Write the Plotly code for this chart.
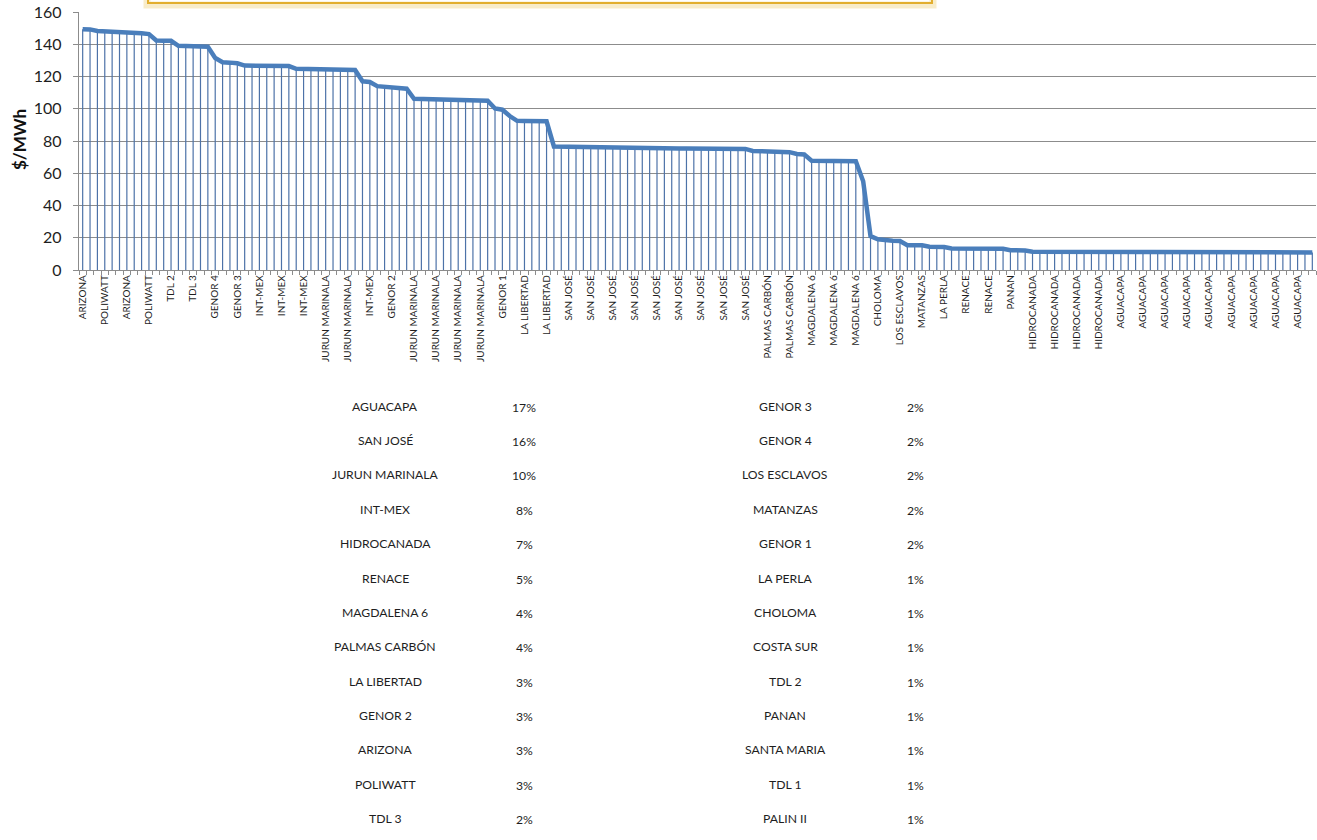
import plotly.graph_objects as go

# ---------------- data ----------------
tick_labels = [
    "ARIZONA", "POLIWATT", "ARIZONA", "POLIWATT", "TDL 2", "TDL 3", "GENOR 4", "GENOR 3",
    "INT-MEX", "INT-MEX", "INT-MEX", "JURUN MARINALA", "JURUN MARINALA", "INT-MEX", "GENOR 2",
    "JURUN MARINALA", "JURUN MARINALA", "JURUN MARINALA", "JURUN MARINALA", "GENOR 1",
    "LA LIBERTAD", "LA LIBERTAD",
    "SAN JOSÉ", "SAN JOSÉ", "SAN JOSÉ", "SAN JOSÉ", "SAN JOSÉ", "SAN JOSÉ", "SAN JOSÉ", "SAN JOSÉ", "SAN JOSÉ",
    "PALMAS CARBÓN", "PALMAS CARBÓN", "MAGDALENA 6", "MAGDALENA 6", "MAGDALENA 6",
    "CHOLOMA", "LOS ESCLAVOS", "MATANZAS", "LA PERLA", "RENACE", "RENACE", "PANAN",
    "HIDROCANADA", "HIDROCANADA", "HIDROCANADA", "HIDROCANADA",
    "AGUACAPA", "AGUACAPA", "AGUACAPA", "AGUACAPA", "AGUACAPA", "AGUACAPA", "AGUACAPA", "AGUACAPA", "AGUACAPA",
]
label_step = 3  # one label every 3 blocks

price = [
    149.3, 149.2, 148.2, 148.0, 147.9, 147.8, 147.7, 147.5, 146.8, 146.3,
    142.3, 142.2, 142.1, 139.0, 138.9, 138.8, 138.7, 138.4, 131.5, 128.8,
    128.6, 128.2, 126.8, 126.7, 126.7, 126.6, 126.6, 126.5, 126.5, 124.8,
    124.7, 124.7, 124.6, 124.6, 124.5, 124.5, 124.3, 124.0, 117.0, 116.6,
    114.0, 113.6, 112.6, 112.5, 112.4, 106.2, 106.1, 106.1, 106.0, 106.0,
    105.9, 105.5, 105.3, 105.2, 105.1, 105.0, 100.2, 99.4, 95.5, 92.5,
    92.4, 92.3, 92.3, 92.2, 76.6, 76.5, 76.4, 76.3, 76.0, 76.0,
    75.9, 75.9, 75.8, 75.8, 75.7, 75.7, 75.6, 75.6, 75.5, 75.5,
    75.5, 75.4, 75.4, 75.4, 75.3, 75.3, 75.3, 75.2, 75.2, 75.2,
    75.1, 73.8, 73.6, 73.5, 73.4, 73.3, 73.1, 72.0, 71.6, 67.8,
    67.7, 67.7, 67.6, 67.6, 67.5, 67.4, 55.0, 21.0, 19.0, 18.2,
    18.1, 18.0, 15.4, 15.3, 15.3, 14.4, 14.3, 14.2, 13.3, 13.3,
    13.3, 13.3, 13.3, 13.2, 13.2, 13.2, 12.3, 12.2, 12.1, 11.3,
    11.3, 11.2, 11.2, 11.2, 11.2, 11.1, 11.1, 11.1, 11.1, 11.1,
    11.1, 11.0, 11.0, 11.0, 11.0, 11.0, 11.0, 11.0, 11.0, 11.0,
    11.0, 11.0, 11.0, 11.0, 10.9, 10.9, 10.9, 10.9, 10.9, 10.9,
    10.9, 10.9, 10.9, 10.9, 10.9, 10.9, 10.9, 10.9,
]

share_left_names = ["AGUACAPA", "SAN JOSÉ", "JURUN MARINALA", "INT-MEX", "HIDROCANADA", "RENACE",
                    "MAGDALENA 6", "PALMAS CARBÓN", "LA LIBERTAD", "GENOR 2", "ARIZONA", "POLIWATT", "TDL 3"]
share_left_pct = ["17%", "16%", "10%", "8%", "7%", "5%", "4%", "4%", "3%", "3%", "3%", "3%", "2%"]
share_right_names = ["GENOR 3", "GENOR 4", "LOS ESCLAVOS", "MATANZAS", "GENOR 1", "LA PERLA", "CHOLOMA",
                     "COSTA SUR", "TDL 2", "PANAN", "SANTA MARIA", "TDL 1", "PALIN II"]
share_right_pct = ["2%", "2%", "2%", "2%", "2%", "1%", "1%", "1%", "1%", "1%", "1%", "1%", "1%"]

# ---------------- layout helpers ----------------
W, H = 1317, 840
PL, PR, PT, PB = 79, 1316, 12, 270


def px_x(x):
    return (x - PL) / (PR - PL)


def px_y(y):
    return (PB - y) / (PB - PT)


n = len(price)
xs = list(range(n))
tickvals = [i * label_step for i in range(len(tick_labels))]

FONT = "Lato, Carlito, Calibri, sans-serif"
BLUE = "#4A7EBB"
DROP = "#4D72A8"
GRID = "#8C8C8C"
TXT = "#1E1E1E"

fig = go.Figure()

# drop lines
fig.add_trace(go.Scatter(
    x=xs, y=price, mode="markers", marker=dict(size=0.1, color=DROP, opacity=0),
    error_y=dict(type="data", symmetric=False, array=[0] * n, arrayminus=price,
                 width=0, thickness=1.2, color=DROP),
    hoverinfo="skip", showlegend=False,
))
# price line
fig.add_trace(go.Scatter(
    x=xs, y=price, mode="lines", line=dict(color=BLUE, width=4.5),
    showlegend=False,
))

fig.update_xaxes(
    range=[-0.5, n - 0.5], tickmode="array", tickvals=tickvals, ticktext=tick_labels,
    tickangle=-90, ticks="", showgrid=False, zeroline=False,
    showline=True, linecolor=GRID, linewidth=1.3,
    tickfont=dict(family=FONT, size=10, color=TXT),
    minor=dict(ticks="outside", ticklen=4, tickcolor=GRID, tickmode="linear", tick0=-0.5, dtick=1,
               showgrid=False),
)
fig.update_yaxes(
    range=[0, 160], tickmode="linear", tick0=0, dtick=20,
    ticks="outside", ticklen=5, tickcolor=GRID, ticklabelstandoff=8,
    showgrid=True, gridcolor=GRID, gridwidth=1.3, zeroline=False,
    showline=True, linecolor=GRID, linewidth=1.3,
    tickfont=dict(family=FONT, size=16, color=TXT),
)

annotations = [
    dict(text="<b>$/MWh</b>", xref="paper", yref="paper", x=px_x(19), y=px_y(140),
         textangle=-90, showarrow=False, font=dict(family=FONT, size=17, color="#111111"),
         xanchor="center", yanchor="middle"),
]

row_y0, row_dy = 406, 34.4
TFS = 12.2
for i, (nm, pc) in enumerate(zip(share_left_names, share_left_pct)):
    annotations.append(dict(text=nm, xref="paper", yref="paper", x=px_x(385), y=px_y(row_y0 + i * row_dy),
                            showarrow=False, font=dict(family=FONT, size=TFS, color=TXT),
                            xanchor="center", yanchor="middle"))
    annotations.append(dict(text=pc, xref="paper", yref="paper", x=px_x(524), y=px_y(row_y0 + 1 + i * row_dy),
                            showarrow=False, font=dict(family=FONT, size=TFS, color=TXT),
                            xanchor="center", yanchor="middle"))
for i, (nm, pc) in enumerate(zip(share_right_names, share_right_pct)):
    annotations.append(dict(text=nm, xref="paper", yref="paper", x=px_x(785), y=px_y(row_y0 + i * row_dy),
                            showarrow=False, font=dict(family=FONT, size=TFS, color=TXT),
                            xanchor="center", yanchor="middle"))
    annotations.append(dict(text=pc, xref="paper", yref="paper", x=px_x(916), y=px_y(row_y0 + 1 + i * row_dy),
                            showarrow=False, font=dict(family=FONT, size=TFS, color=TXT),
                            xanchor="center", yanchor="middle"))

shapes = [
    # glow of the cut-off text box at the top
    dict(type="rect", xref="paper", yref="paper", x0=px_x(147), x1=px_x(933), y0=px_y(5), y1=px_y(-40),
         line=dict(color="rgba(236,200,100,0.35)", width=7), fillcolor="rgba(0,0,0,0)", layer="above"),
    dict(type="rect", xref="paper", yref="paper", x0=px_x(148), x1=px_x(932), y0=px_y(3), y1=px_y(-40),
         line=dict(color="#E2AE2E", width=2), fillcolor="rgba(0,0,0,0)", layer="above"),
]

fig.update_layout(
    width=W, height=H, autosize=False,
    margin=dict(l=PL, r=W - PR, t=PT, b=H - PB, pad=0),
    paper_bgcolor="white", plot_bgcolor="white",
    font=dict(family=FONT, color=TXT),
    annotations=annotations, shapes=shapes,
    showlegend=False,
)

fig.write_html("out.html", config={"displayModeBar": False},
               post_script="document.body.style.margin='0';document.body.style.overflow='hidden';")
